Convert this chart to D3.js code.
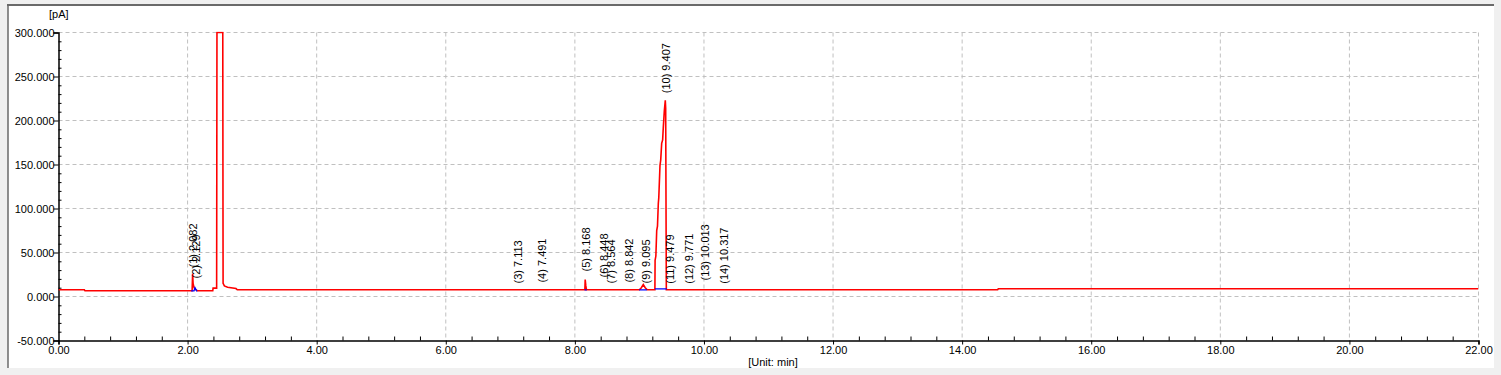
<!DOCTYPE html>
<html>
<head>
<meta charset="utf-8">
<script src="https://cdn.jsdelivr.net/npm/d3@7"></script>
<style>
  html, body { margin: 0; padding: 0; background: #f0f0f0; }
  svg { display: block; font-family: "Liberation Sans", Arial, sans-serif; }
  .axis text { font-size: 11px; fill: #000; }
  .axis path, .axis line { stroke: #000; }
  .grid line { stroke: #c0c0c0; stroke-dasharray: 4 3; }
</style>
</head>
<body>
<div id="chart"></div>
<script>
// ----------------------------
// Data
// ----------------------------
var times  = [0.00, 0.40, 0.41, 2.060, 2.070, 2.078, 2.085, 2.100, 2.120, 2.150, 2.390, 2.395, 2.450, 2.455, 2.545, 2.550, 2.570, 2.620, 2.750, 2.770,
              8.155, 8.160, 8.170, 8.180, 9.000, 9.030, 9.060, 9.090, 9.120,
              9.240, 9.243, 9.255, 9.268, 9.280, 9.293, 9.300, 9.319, 9.330, 9.345, 9.360, 9.370, 9.386, 9.401, 9.407, 9.417,
              14.55, 14.56, 22.00];
var signal = [7.6, 7.6, 6.5, 6.5, 6.5, 25.8, 15.0, 10.0, 8.0, 6.5, 6.5, 9.5, 9.5, 300, 300, 15.0, 12.0, 10.5, 9.0, 7.6,
              7.6, 19.3, 12.0, 7.6, 7.6, 10.0, 13.6, 10.0, 7.6,
              7.6, 41, 46, 75, 80, 106, 112, 149, 155, 174, 178, 192, 211, 223, 214, 7.6,
              7.6, 8.8, 8.8];

// integration baselines (blue)
var baselines = [
  [[2.055, 6.5], [2.100, 6.5], [2.115, 10.0], [2.140, 6.5], [2.150, 6.5]],
  [[8.150, 7.6], [8.185, 7.6]],
  [[8.995, 7.6], [9.115, 7.6]],
  [[9.240, 8.6], [9.425, 8.6]]
];

var peakNums    = [1, 2, 3, 4, 5, 6, 7, 8, 9, 10, 11, 12, 13, 14];
var peakRTs     = [2.082, 2.129, 7.113, 7.491, 8.168, 8.448, 8.564, 8.842, 9.095, 9.407, 9.479, 9.771, 10.013, 10.317];
var labelLevels = [25, 12.5, 6.8, 7.9, 20.5, 13.7, 6.8, 7.9, 6.8, 223, 6.5, 6.5, 10.2, 6.5];

var yTicks = [300, 250, 200, 150, 100, 50, 0, -50];
var xTicks = [0, 2, 4, 6, 8, 10, 12, 14, 16, 18, 20, 22];

// ----------------------------
// Setup
// ----------------------------
var W = 1501, H = 375;
var svg = d3.select("#chart").append("svg").attr("width", W).attr("height", H);

// window panel
svg.append("rect").attr("x", 8).attr("y", 5).attr("width", 1486).attr("height", 363).attr("fill", "#fff");
svg.append("line").attr("x1", 7).attr("x2", 1494).attr("y1", 5).attr("y2", 5)
  .attr("stroke", "#6a6a6a").attr("stroke-width", 2);
svg.append("line").attr("x1", 8).attr("x2", 8).attr("y1", 4).attr("y2", 368)
  .attr("stroke", "#6a6a6a").attr("stroke-width", 1.5);

var x = d3.scaleLinear().domain([0, 22]).range([58.5, 1478.5]);
var y = d3.scaleLinear().domain([-50, 300]).range([340.5, 32.5]);

// ----------------------------
// Grid
// ----------------------------
var grid = svg.append("g").attr("class", "grid");
grid.selectAll(".gh").data(yTicks.filter(d => d > -50)).enter().append("line")
  .attr("x1", x(0)).attr("x2", x(22))
  .attr("y1", d => y(d)).attr("y2", d => y(d));
grid.selectAll(".gv").data(xTicks.filter(d => d > 0)).enter().append("line")
  .attr("x1", d => x(d)).attr("x2", d => x(d))
  .attr("y1", y(300)).attr("y2", y(-50));

// ----------------------------
// Axes
// ----------------------------
var yMinor = d3.range(-50, 301, 10).filter(d => d % 50 != 0);
var xMinor = d3.range(0, 111, 1).map(d => d * 0.2).filter((d, i) => i % 2 == 0 && i % 10 != 0);

svg.append("g").attr("class", "axis").attr("transform", `translate(${x(0)},0)`)
  .call(d3.axisLeft(y).tickValues(yTicks).tickSize(5).tickPadding(-1).tickFormat(d => d.toFixed(3)));
svg.append("g").attr("class", "axis").attr("transform", `translate(${x(0)},0)`)
  .call(d3.axisRight(y).tickValues(yMinor).tickSize(3).tickFormat(""))
  .select(".domain").remove();

svg.append("g").attr("class", "axis").attr("transform", `translate(0,${y(-50)})`)
  .call(d3.axisBottom(x).tickValues(xTicks).tickSize(4).tickPadding(2).tickFormat(d => d.toFixed(2)));
svg.append("g").attr("class", "axis").attr("transform", `translate(0,${y(-50)})`)
  .call(d3.axisTop(x).tickValues(xMinor).tickSize(4).tickFormat(""))
  .select(".domain").remove();

svg.selectAll(".axis .domain").attr("stroke-width", 1.5);

svg.append("text").attr("x", 49).attr("y", 18).attr("font-size", 11).text("[pA]");
svg.append("text").attr("x", 773).attr("y", 366).attr("font-size", 11)
  .attr("text-anchor", "middle").text("[Unit: min]");

// ----------------------------
// Signal
// ----------------------------
svg.append("clipPath").attr("id", "plotclip").append("rect")
  .attr("x", x(0)).attr("y", y(300) - 1).attr("width", x(22) - x(0)).attr("height", y(-50) - y(300) + 1);

var line = d3.line().x(d => x(d[0])).y(d => y(d[1]));

svg.append("path")
  .attr("clip-path", "url(#plotclip)")
  .attr("d", line(times.map((t, i) => [t, signal[i]])))
  .attr("fill", "none").attr("stroke", "#ff0000").attr("stroke-width", 1.6)
  .attr("stroke-linejoin", "miter");

svg.append("g").attr("clip-path", "url(#plotclip)")
  .selectAll("path.base").data(baselines).enter().append("path")
  .attr("d", line).attr("fill", "none").attr("stroke", "#0000ff").attr("stroke-width", 1.3);

// ----------------------------
// Peak labels
// ----------------------------
svg.selectAll("text.peak").data(peakNums).enter().append("text")
  .attr("class", "peak")
  .attr("font-size", 11)
  .attr("transform", (n, i) => `translate(${x(peakRTs[i]) + 4},${y(labelLevels[i]) - 7}) rotate(-90)`)
  .text((n, i) => `(${n}) ${peakRTs[i].toFixed(3)}`);
</script>
</body>
</html>
